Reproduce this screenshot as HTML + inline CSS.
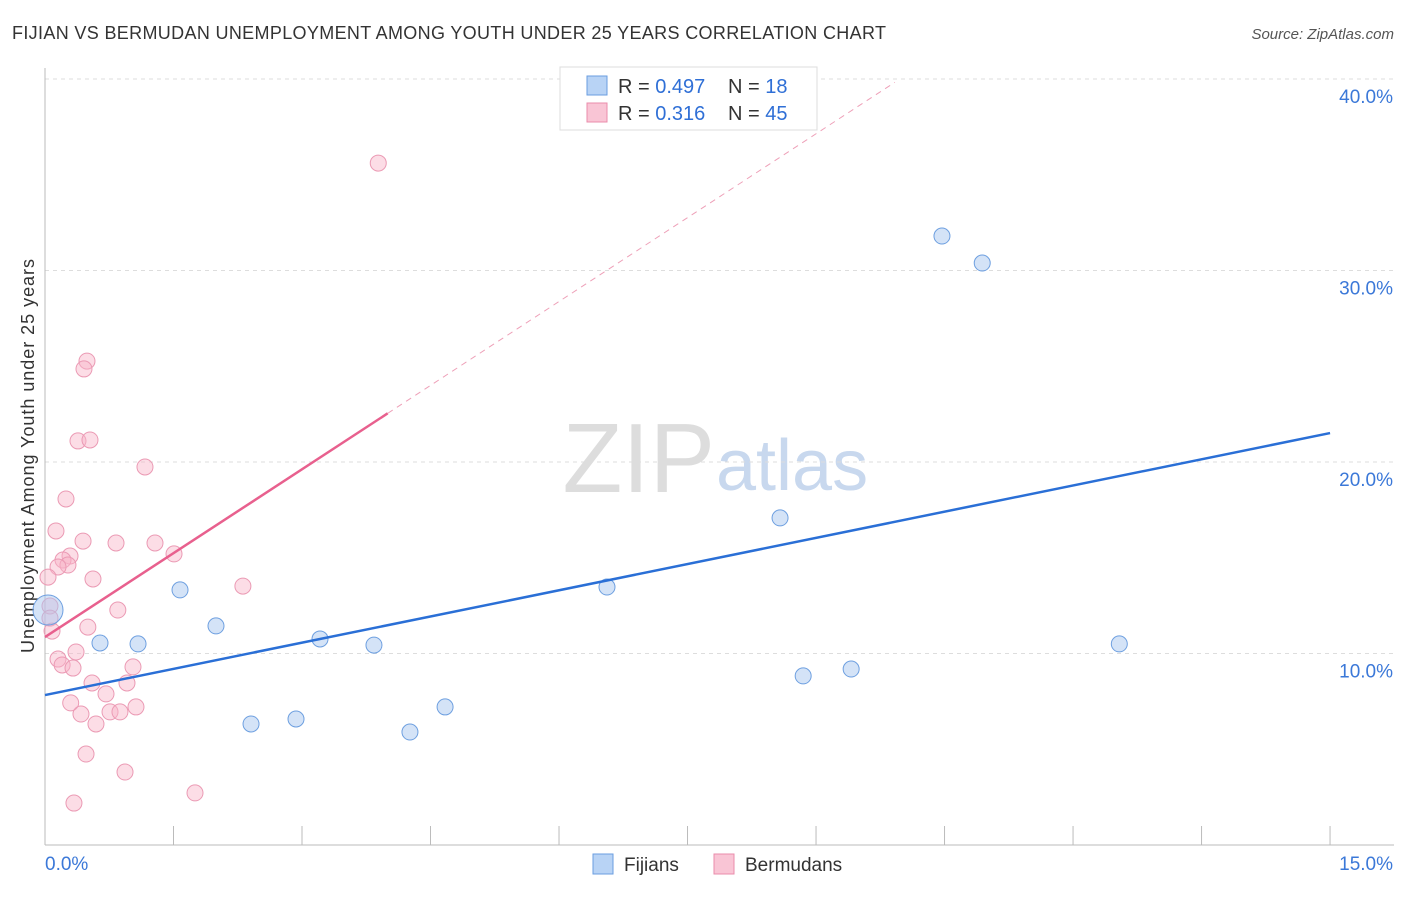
<!DOCTYPE html>
<html><head><meta charset="utf-8"><style>
body{margin:0;background:#fff;font-family:"Liberation Sans",sans-serif;}
svg text{font-family:"Liberation Sans",sans-serif;}
</style></head><body>
<svg id="chart" width="1406" height="892" xmlns="http://www.w3.org/2000/svg">
<text x="12" y="39" font-size="18" fill="#333" textLength="874">FIJIAN VS BERMUDAN UNEMPLOYMENT AMONG YOUTH UNDER 25 YEARS CORRELATION CHART</text>
<text x="1394" y="39" font-size="15" fill="#555" text-anchor="end" font-style="italic">Source: ZipAtlas.com</text>
<text x="715" y="492" font-size="98" fill="#ddd" text-anchor="end" font-family="Liberation Serif">ZIP</text>
<text x="716" y="490" font-size="72" fill="#c8d8ee">atlas</text>
<text transform="translate(34,456) rotate(-90)" font-size="18" fill="#333" text-anchor="middle" textLength="394">Unemployment Among Youth under 25 years</text>
<g id="grid"></g><g id="marks"></g>
<g>
<rect x="560" y="67" width="257" height="63" fill="#fff" stroke="#ddd"/>
<rect x="587" y="76" width="20" height="19" fill="#b8d3f5" stroke="#6a9ee0"/>
<rect x="587" y="103" width="20" height="19" fill="#f9c5d5" stroke="#ea8cab"/>
<text x="618" y="93" font-size="20" fill="#333">R = <tspan fill="#2f6fd6">0.497</tspan></text>
<text x="728" y="93" font-size="20" fill="#333">N = <tspan fill="#2f6fd6"> 18</tspan></text>
<text x="618" y="120" font-size="20" fill="#333">R = <tspan fill="#2f6fd6"> 0.316</tspan></text>
<text x="728" y="120" font-size="20" fill="#333">N = <tspan fill="#2f6fd6">45</tspan></text>
</g>
<g>
<rect x="593" y="854" width="20" height="20" fill="#b8d3f5" stroke="#6a9ee0"/>
<text x="624" y="871" font-size="19" fill="#333">Fijians</text>
<rect x="714" y="854" width="20" height="20" fill="#f9c5d5" stroke="#ea8cab"/>
<text x="745" y="871" font-size="19" fill="#333">Bermudans</text>
</g>
</svg>
<script>
const yTicks=[10,20,30,40];
const yTickLabels=["10.0%","20.0%","30.0%","40.0%"];
const xTickLabels=["0.0%","15.0%"];
const fijX=[1.576,1.996,0.642,1.086,2.405,2.93,3.21,3.84,4.26,4.67,6.56,8.58,8.85,9.41,10.47,10.94,12.54,0.035];
const fijY=[13.32,11.44,10.55,10.5,6.32,6.58,10.76,10.44,5.9,7.21,13.47,17.08,8.83,9.19,31.8,30.39,10.5,12.27];
const berX=[3.89,0.49,0.455,0.385,0.525,1.167,0.245,0.128,0.444,0.829,1.284,1.506,0.292,0.21,0.268,0.152,0.035,0.56,2.31,0.058,0.85,0.058,0.5,0.082,0.362,0.152,0.2,0.327,1.027,0.549,0.957,0.712,0.3,1.062,0.759,0.875,0.42,0.595,0.479,0.934,1.751,0.338];
const berY=[35.61,25.27,24.86,21.1,21.15,19.74,18.07,16.4,15.87,15.77,15.77,15.2,15.09,14.88,14.62,14.52,13.99,13.89,13.52,12.48,12.27,11.85,11.38,11.17,10.08,9.71,9.4,9.24,9.3,8.46,8.46,7.89,7.42,7.21,6.95,6.95,6.84,6.32,4.75,3.81,2.72,2.19];
const fijTrend=[7.83,21.51];
const berTrend=[10.86,2.92];
const X=v=>45+v*85.67, Y=v=>845-v*19.15;
const NS="http://www.w3.org/2000/svg";
const grid=document.getElementById('grid'), marks=document.getElementById('marks');
function mk(tag,attrs,parent){const e=document.createElementNS(NS,tag);for(const k in attrs)e.setAttribute(k,attrs[k]);parent.appendChild(e);return e;}
yTicks.forEach((t,i)=>{
 const l=mk('line',{x1:45,x2:1394,y1:Y(t),y2:Y(t),stroke:'#ddd','stroke-dasharray':'4,4'},grid);
 
 
 const tx=mk('text',{x:1393,y:Y(t)+24,'font-size':19,fill:'#3b78d8','text-anchor':'end'},grid);tx.textContent=yTickLabels[i];
 
 
});
const ax=mk('line',{x1:45,x2:1394,y1:845,y2:845,stroke:'#bbb'},grid);


const ay=mk('line',{x1:45,x2:45,y1:68,y2:845,stroke:'#bbb'},grid);


for(let i=0;i<=10;i++){const v=i*1.5;const t=mk('line',{x1:X(v),x2:X(v),y1:826,y2:845,stroke:'#bbb'},grid);
 
 }
[[0,45,'start'],[15,1393,'end']].forEach((a,i)=>{const t=mk('text',{x:a[1],y:870,'font-size':19,fill:'#3b78d8','text-anchor':a[2]},grid);t.textContent=xTickLabels[i];
 
 });
berX.forEach((x,i)=>{const c=mk('circle',{cx:X(x),cy:Y(berY[i]),r:8,fill:'rgba(248,180,200,0.45)',stroke:'#eb9ab4','stroke-width':1},marks);
 
 });
fijX.forEach((x,i)=>{const c=mk('circle',{cx:X(x),cy:Y(fijY[i]),r:i==17?15:8,fill:'rgba(170,200,240,0.5)',stroke:'#6d9fe0','stroke-width':1},marks);
 
 });
const fl=mk('line',{x1:X(0),y1:Y(fijTrend[0]),x2:X(15),y2:Y(fijTrend[1]),stroke:'#2a6fd6','stroke-width':2.5},marks);


const bl=mk('line',{x1:X(0),y1:Y(berTrend[0]),x2:X(4),y2:Y(berTrend[0]+berTrend[1]*4),stroke:'#e8608e','stroke-width':2.5},marks);


const bd=mk('line',{x1:X(4),y1:Y(berTrend[0]+berTrend[1]*4),x2:X(9.92),y2:Y(berTrend[0]+berTrend[1]*9.92),stroke:'#eea0b8','stroke-width':1,'stroke-dasharray':'6,5'},marks);


</script>
</body></html>
